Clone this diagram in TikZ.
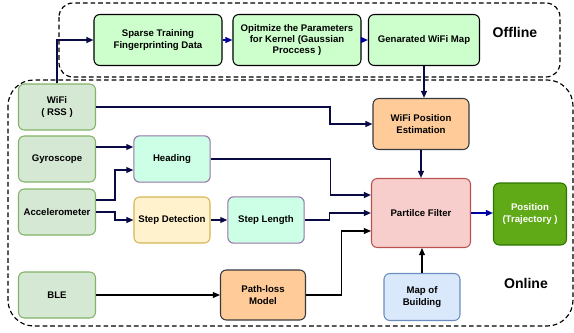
\documentclass[tikz,border=0pt]{standalone}
\usepackage{fontspec}
\setmainfont{Liberation Sans}
\usepackage{tikz}
\usepackage{xcolor}
\usetikzlibrary{arrows.meta}

\definecolor{navy}{HTML}{0A0A45}
\definecolor{arrowblue}{HTML}{0000A0}
\definecolor{offfill}{HTML}{CCFFCC}
\definecolor{sensfill}{HTML}{D5E8D4}
\definecolor{sensline}{HTML}{82B366}
\definecolor{mintfill}{HTML}{CCFFE6}
\definecolor{mintline}{HTML}{9673A6}
\definecolor{yelfill}{HTML}{FFF2CC}
\definecolor{yelline}{HTML}{D6B656}
\definecolor{orafill}{HTML}{FFCC99}
\definecolor{oraline}{HTML}{36393D}
\definecolor{redfill}{HTML}{F8CECC}
\definecolor{redline}{HTML}{B85450}
\definecolor{bluefill}{HTML}{DAE8FC}
\definecolor{blueline}{HTML}{6C8EBF}
\definecolor{posfill}{HTML}{60A917}
\definecolor{posline}{HTML}{2D7600}

\begin{document}
\begin{tikzpicture}[x=0.03cm, y=-0.03cm,
  box/.style={rectangle, rounded corners=5pt, line width=0.9pt, align=center,
    inner sep=0pt, font=\fontsize{8.2}{9.6}\selectfont\bfseries},
  offbox/.style={box, draw=black, fill=offfill},
  sensor/.style={box, draw=sensline, fill=sensfill, minimum width=2.31cm, minimum height=1.38cm},
  mint/.style={box, draw=mintline, fill=mintfill, minimum width=2.29cm, minimum height=1.39cm},
  arr/.style={-{Triangle[width=5pt,length=6pt]}, line width=1.2pt, draw=navy},
  arrblue/.style={-{Triangle[width=5pt,length=6pt]}, line width=1.2pt, draw=arrowblue},
  arrblack/.style={-{Triangle[width=5pt,length=6pt]}, line width=0.9pt, draw=black},
  zone/.style={draw=black, line width=1pt, dash pattern=on 4pt off 2.5pt},
  zonelabel/.style={font=\fontsize{12}{14}\selectfont\bfseries}]
\useasboundingbox (0,0) rectangle (574,333);

% zones
\draw[zone, rounded corners=12pt] (59,3) rectangle (560,77);
\draw[zone, rounded corners=22pt] (8,80) rectangle (573,326);
\node[zonelabel] (offl) at (515,32) {Offline};
\node[zonelabel] (onl) at (526,283) {Online};

% offline chain
\node[offbox, minimum width=3.84cm, minimum height=1.53cm] (sparse) at (158,40) {Sparse Training\\Fingerprinting Data};
\node[offbox, minimum width=3.84cm, minimum height=1.53cm] (opt) at (297,40) {Opitmize the Parameters\\for Kernel (Gaussian\\Proccess )};
\node[offbox, minimum width=3.33cm, minimum height=1.53cm] (gen) at (424,40) {Genarated WiFi Map};

% sensors
\node[sensor] (wifi) at (57,107) {WiFi\\( RSS )};
\node[sensor] (gyro) at (57,159) {Gyroscope};
\node[sensor] (acc) at (57,212) {Accelerometer};
\node[sensor] (ble) at (57,295) {BLE};

% processing
\node[mint] (head) at (172,159) {Heading};
\node[box, draw=yelline, fill=yelfill, minimum width=2.28cm, minimum height=1.38cm] (sdet) at (172,220) {Step Detection};
\node[mint] (slen) at (266,220) {Step Length};
\node[box, draw=oraline, fill=orafill, minimum width=2.55cm, minimum height=1.5cm] (ploss) at (263,295) {Path-loss\\Model};
\node[box, draw=oraline, fill=orafill, minimum width=2.88cm, minimum height=1.53cm] (wpos) at (421,124) {WiFi Position\\Estimation};
\node[box, draw=redline, fill=redfill, minimum width=2.97cm, minimum height=2.07cm] (pf) at (421,213) {Partilce Filter};
\node[box, draw=blueline, fill=bluefill, minimum width=2.28cm, minimum height=1.41cm] (map) at (422,297) {Map of\\Building};
\node[box, draw=posline, fill=posfill, text=white, minimum width=2.19cm, minimum height=1.86cm] (pos) at (530,214) {Position\\(Trajectory )};

% connectors
\draw[arr] (wifi.north) |- (sparse.west);
\draw[arrblue] (sparse) -- (opt);
\draw[arrblue] (opt) -- (gen);
\draw[arr] (gen.south) -- (gen.south |- wpos.north);
\draw[arr] (wifi.east) -- ++(234,0) |- (wpos.west);
\draw[arr] (wpos.south) -- (pf.north);
\draw[arr] ([yshift=0.36cm]gyro.east) -- ([yshift=0.36cm]head.west);
\draw[arr] ([yshift=0.36cm]acc.east) -- ++(19,0) |- ([yshift=-0.33cm]head.west);
\draw[arr] (acc.east) -- ++(19,0) |- (sdet.west);
\draw[arr] (sdet) -- (slen);
\draw[arr] (head.east) -- ++(120,0) |- ([yshift=0.54cm]pf.west);
\draw[arr] (slen.east) -- ++(25,0) |- (pf.west);
\draw[arrblack] (ble) -- (ploss);
\draw[arrblack] (ploss.east) -- ++(35,0) |- ([yshift=-0.54cm]pf.west);
\draw[arrblack] (map.north) -- (map.north |- pf.south);
\draw[arrblue] (pf.east) -- (pf.east -| pos.west);
\end{tikzpicture}
\end{document}
